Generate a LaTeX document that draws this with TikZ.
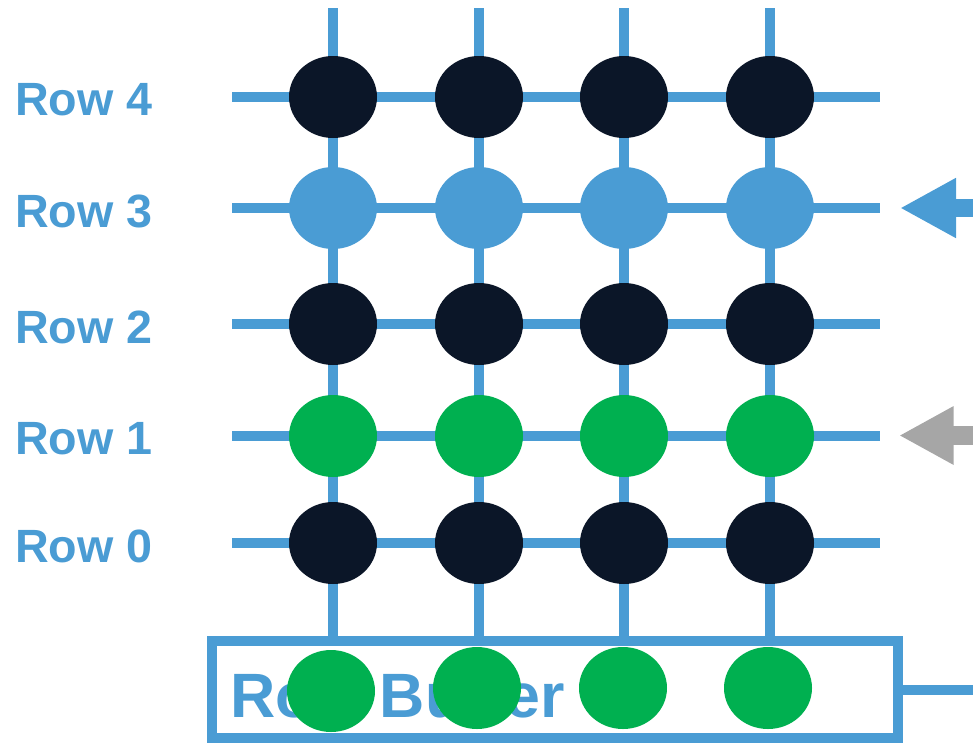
\documentclass[tikz,border=0pt]{standalone}
\usepackage{fontspec}
\setmainfont{Liberation Sans}
\usetikzlibrary{arrows.meta, positioning, shapes.geometric}
\definecolor{wireblue}{RGB}{74,156,212}
\definecolor{cellnavy}{RGB}{11,22,40}
\definecolor{cellgreen}{RGB}{0,176,80}
\definecolor{arrowgray}{RGB}{166,166,166}

\begin{document}
\begin{tikzpicture}[x=0.75pt, y=0.75pt,
  wire/.style={draw=wireblue, line width=7.5pt},
  cell/.style={ellipse, minimum width=66pt, minimum height=61.5pt, inner sep=0pt},
  rowlabel/.style={anchor=west, inner sep=0pt, text=wireblue,
                   font=\fontsize{35}{42}\selectfont\bfseries}]
\useasboundingbox (0,0) rectangle (973,-746);
% Row buffer
\node[draw=wireblue, line width=7.5pt, minimum width=514.5pt, minimum height=72.75pt,
      inner sep=0pt] (buffer) at (555,-689.5) {};
\node[anchor=west, inner sep=0pt, text=wireblue,
      font=\fontsize{47}{56}\selectfont\bfseries] (buftext) at (230,-695) {Row Buffer};
\coordinate (bufout) at (973,-689.5);
\draw[wire] (buffer.east) -- (bufout);
% Bit lines
\foreach \c/\x in {1/333,2/479,3/624,4/770} {
  \coordinate (top-\c) at (\x,-8);
  \draw[wire] (top-\c) -- (top-\c |- buffer.north);
}
% Word lines and labels
\foreach \r/\y in {4/97,3/208,2/324,1/436,0/543} {
  \coordinate (west-\r) at (232,-\y);
  \coordinate (east-\r) at (880,-\y);
  \draw[wire] (west-\r) -- (east-\r);
  \node[rowlabel] (lbl-\r) at (15,-\y-3) {Row \r};
}
% Cells
\foreach \r/\y/\col in {4/97/cellnavy, 3/208/wireblue, 2/324/cellnavy,
                        1/436/cellgreen, 0/543/cellnavy} {
  \foreach \c/\x in {1/333,2/479,3/624,4/770} {
    \node[cell, fill=\col] (cell-\r-\c) at (\x,-\y) {};
  }
}
% Buffered cells
\foreach \c/\x/\y in {1/331/691, 2/477/688, 3/623/688, 4/768/688} {
  \node[cell, fill=cellgreen] (bufcell-\c) at (\x,-\y) {};
}
% Incoming arrows
\coordinate (in-3) at (973,-208);
\coordinate (tip-3) at (900,-208);
\draw[draw=wireblue, line width=13.5pt, -{Triangle[length=42pt, width=42pt]}] (in-3) -- (tip-3);
\coordinate (in-1) at (973,-435.5);
\coordinate (tip-1) at (899,-435.5);
\draw[draw=arrowgray, line width=14pt, -{Triangle[length=41pt, width=41pt]}] (in-1) -- (tip-1);
\end{tikzpicture}
\end{document}
